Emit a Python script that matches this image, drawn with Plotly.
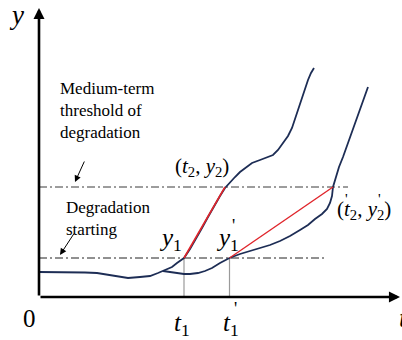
import plotly.graph_objects as go

# Degradation paths of two specimens (time t vs. degradation measure y)
curve1_t = [0, 1.6, 3.1, 4.6, 5.8, 7.1, 8.1, 8.9, 10.1, 11.1, 11.9, 12.4, 12.8, 13.3, 13.8,
            14.2, 14.5, 15.1, 15.7, 16.3, 16.9, 17.5, 18.1, 18.6, 19.1, 19.6, 20.1, 20.6,
            21.3, 22.1, 22.8, 23.4, 23.9, 24.4, 24.9, 25.3, 25.6, 25.9, 26.2, 26.5, 26.9,
            27.2, 27.5]
curve1_y = [2.5, 2.5, 2.5, 2.45, 2.4, 2.2, 2.0, 1.9, 2.0, 2.1, 2.4, 2.6, 2.75, 3.0, 3.4,
            3.7, 3.9, 4.8, 5.8, 6.9, 8.0, 9.1, 10.1, 10.9, 11.5, 12.0, 12.5, 12.9,
            13.4, 13.7, 14.0, 14.2, 14.7, 15.4, 16.1, 16.9, 17.8, 18.7, 19.7, 20.7, 21.7,
            22.4, 22.9]

curve2_t = [12.4, 13.1, 13.8, 14.5, 15.1, 15.9, 16.6, 17.3, 18.1, 19.05, 20.1, 21.1, 22.1,
            23.1, 24.1, 25.1, 26.1, 26.9, 27.6, 28.3, 28.8, 29.1, 29.3, 29.4, 29.7, 30.0,
            30.4, 30.8, 31.2, 31.6, 32.0, 32.4, 32.7, 32.9]
curve2_y = [2.6, 2.5, 2.35, 2.3, 2.3, 2.4, 2.6, 2.9, 3.4, 3.9, 4.3, 4.6, 4.9,
            5.2, 5.6, 6.1, 6.7, 7.2, 7.8, 8.3, 8.8, 9.4, 10.1, 11.0, 12.0, 13.0,
            14.0, 15.1, 16.2, 17.3, 18.4, 19.6, 20.5, 21.0]

# Thresholds and the times at which each path reaches them
y_start = 3.9        # degradation starting
y_medium = 11.0      # medium-term threshold
t1, t2 = 14.5, 18.6
t1p, t2p = 19.05, 29.4
start_line_end = 28.6
medium_line_end = 30.9

NAVY = "#1d2d55"
RED = "#e0252b"
SERIF = "'Liberation Serif', 'Times New Roman', Times, 'DejaVu Serif', serif"
PRIME = "'"

fig = go.Figure()

# threshold lines
fig.add_trace(go.Scatter(x=[0, medium_line_end], y=[y_medium, y_medium], mode="lines",
                         line=dict(color="#3a3a3a", width=1, dash="8px,3px,2px,3px"),
                         hoverinfo="skip"))
fig.add_trace(go.Scatter(x=[0, start_line_end], y=[y_start, y_start], mode="lines",
                         line=dict(color="#222222", width=1, dash="8px,3px,2px,3px"),
                         hoverinfo="skip"))

# drop lines to the time axis
for tv in (t1, t1p):
    fig.add_trace(go.Scatter(x=[tv, tv], y=[0, y_start], mode="lines",
                             line=dict(color="#9a9a9a", width=1.2), hoverinfo="skip"))

# degradation paths
fig.add_trace(go.Scatter(x=curve1_t, y=curve1_y, mode="lines",
                         line=dict(color=NAVY, width=1.8), hoverinfo="skip"))
fig.add_trace(go.Scatter(x=curve2_t, y=curve2_y, mode="lines",
                         line=dict(color=NAVY, width=1.8), hoverinfo="skip"))

# secant lines between the two thresholds
fig.add_trace(go.Scatter(x=[t1, t2], y=[y_start, y_medium], mode="lines",
                         line=dict(color=RED, width=1.6), hoverinfo="skip"))
fig.add_trace(go.Scatter(x=[t1p, t2p], y=[y_start, y_medium], mode="lines",
                         line=dict(color=RED, width=1.4), hoverinfo="skip"))

ann = []

def arrow(x0, y0, x1, y1, width, size, head):
    ann.append(dict(x=x1, y=y1, ax=x0, ay=y0, xref="x", yref="y", axref="x", ayref="y",
                    text="", showarrow=True, arrowhead=head, arrowsize=size,
                    arrowwidth=width, arrowcolor="black", standoff=0, startstandoff=0))

# coordinate axes with arrowheads
arrow(0, 0, 0, 28.9, 2.6, 0.85, 2)
arrow(0, 0, 36.1, 0, 2.6, 0.85, 2)

# pointers to the threshold lines
arrow(4.6, 13.7, 3.6, 11.5, 1, 1.3, 2)
arrow(3.6, 6.5, 2.1, 4.2, 1, 1.3, 2)

def label(x, y, text, size, xanchor="center", italic=False):
    ann.append(dict(x=x, y=y, xref="x", yref="y", text=text, showarrow=False,
                    xanchor=xanchor, yanchor="middle", align="left",
                    font=dict(family=SERIF, size=size, color="black",
                              style="italic" if italic else "normal")))

label(-2.3, 28.2, "y", 27, italic=True)
label(-1.0, -2.1, "0", 25)
label(35.8, -2.1, "t", 27, xanchor="left", italic=True)

label(1.9, 18.7, "Medium-term<br>threshold of<br>degradation", 17, xanchor="left")
label(2.5, 7.9, "Degradation<br>starting", 17, xanchor="left")

label(t1 - 0.2, -2.7, "<i>t</i><sub>1</sub>", 25)
label(t1p + 0.1, -2.7, "<i>t</i><sub>1</sub>", 25)
label(t1p + 0.6, -1.2, PRIME, 18)

label(13.1, 5.8, "<i>y</i><sub>1</sub>", 25)
label(18.8, 5.8, "<i>y</i><sub>1</sub>", 25)
label(19.4, 7.1, PRIME, 18)

label(16.3, 13.0, "(<i>t</i><sub>2</sub>, <i>y</i><sub>2</sub>)", 21)
label(32.5, 8.7, "(<i>t</i><sub>2</sub>, <i>y</i><sub>2</sub>)", 21)
label(30.7, 9.8, PRIME, 15)
label(34.0, 9.8, PRIME, 15)

fig.update_layout(
    width=402, height=340, autosize=False,
    margin=dict(l=0, r=0, t=0, b=0),
    paper_bgcolor="white", plot_bgcolor="white",
    showlegend=False,
    annotations=ann,
    font=dict(family=SERIF),
    xaxis=dict(range=[-3.9, 36.3], visible=False, fixedrange=True),
    yaxis=dict(range=[-4.3, 29.7], visible=False, fixedrange=True),
)

fig.write_html("out.html")
